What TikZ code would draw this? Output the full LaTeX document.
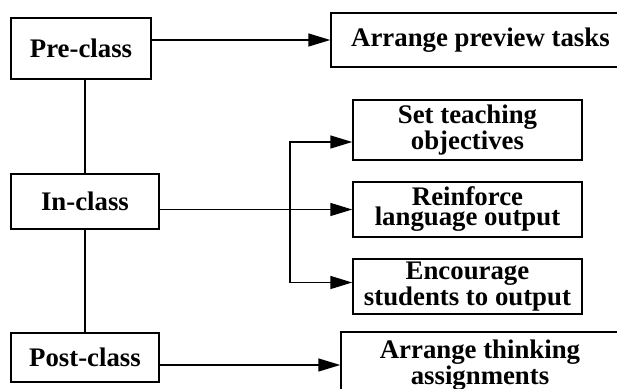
\documentclass[tikz,border=0pt]{standalone}
\usepackage{fontspec}
\setmainfont{Liberation Serif}
\usetikzlibrary{arrows.meta}
\tikzset{
  stagebox/.style={
    draw, line width=.75pt, align=center, inner sep=0pt,
    font={\fontsize{13.4}{10}\selectfont\bfseries}
  },
  taskbox/.style={
    stagebox, minimum width=114.5pt
  },
  flow/.style={
    line width=.75pt, -{Triangle[length=11pt,width=6.5pt]}
  },
  link/.style={
    line width=.75pt
  }
}

\begin{document}
\begin{tikzpicture}[x=.5pt,y=-.5pt]
\clip (0,0) rectangle (617,389);
\node[stagebox, minimum width=70pt, minimum height=30.5pt] (preclass) at (81,48.5) {Pre-class};
\node[stagebox, minimum width=74pt, minimum height=27.5pt] (inclass) at (85,201.5) {In-class};
\node[stagebox, minimum width=74pt, minimum height=24.5pt] (postclass) at (85,357.5) {Post-class};
\node[stagebox, minimum width=149.5pt, minimum height=27pt] (preview) at (480.5,40) {Arrange preview tasks};
\node[taskbox, minimum height=30pt] (goals) at (467.5,130) {Set teaching\\objectives};
\node[taskbox, minimum height=27.5pt] (reinforce) at (467.5,209.5) {Reinforce\\language output};
\node[taskbox, minimum height=27.5pt] (encourage) at (467.5,286.5) {Encourage\\students to output};
\node[stagebox, minimum width=139pt, minimum height=33pt] (thinking) at (480,365) {Arrange thinking\\assignments};
\coordinate (fork) at (290,209.5);
\draw[link] (preclass.south -| inclass.north) -- (inclass.north);
\draw[link] (inclass.south) -- (postclass.north);
\draw[flow] (preclass.east |- preview.west) -- (preview.west);
\draw[flow] (inclass.east |- reinforce.west) -- (reinforce.west);
\draw[flow] (fork) |- ([yshift=-6pt]goals.west);
\draw[flow] (fork) |- ([yshift=2pt]encourage.west);
\draw[flow] (postclass.east |- thinking.west) -- (thinking.west);
\end{tikzpicture}
\end{document}
